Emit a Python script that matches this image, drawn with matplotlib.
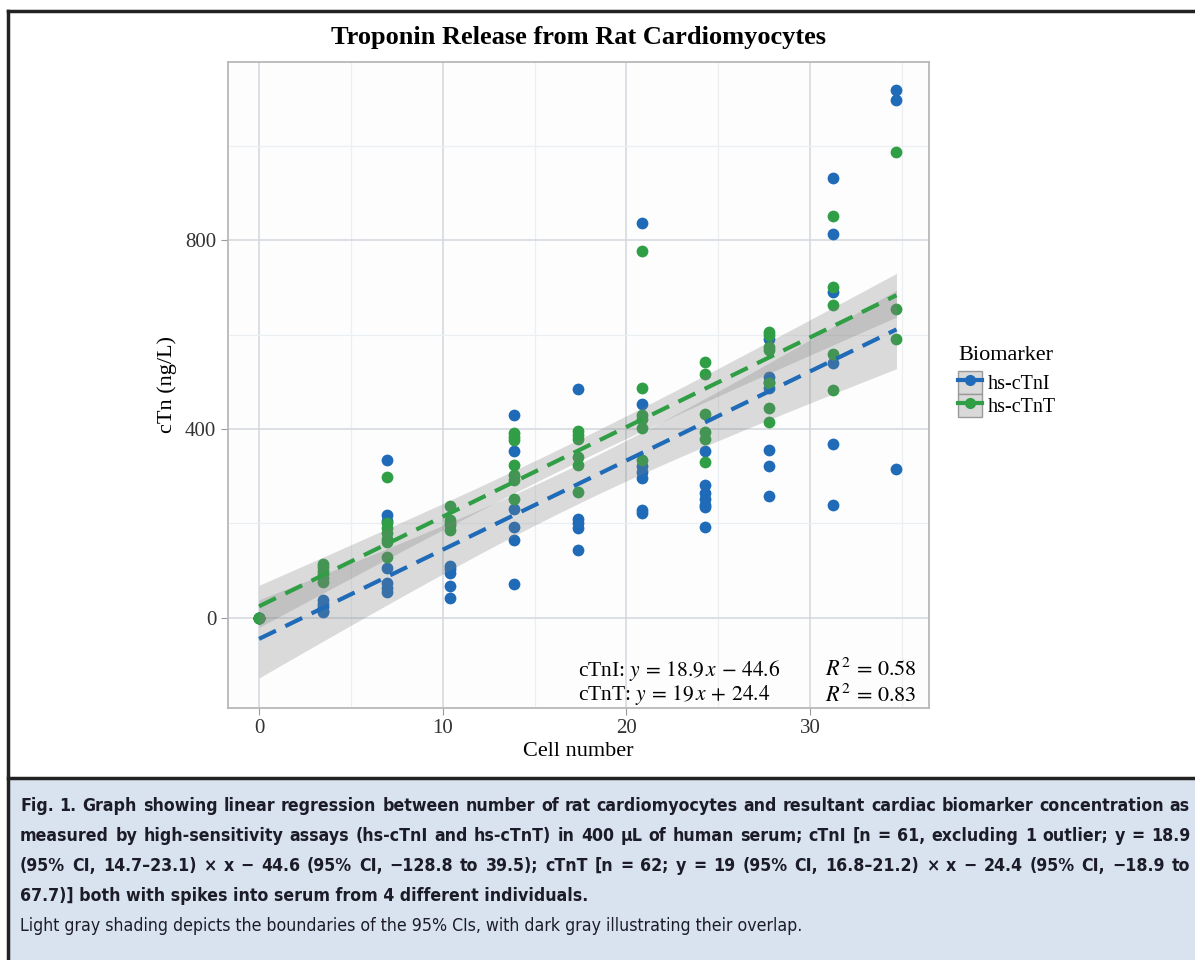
import numpy as np
import matplotlib.pyplot as plt
from matplotlib.lines import Line2D
from matplotlib.patches import Patch, Rectangle
from matplotlib.legend_handler import HandlerTuple

plt.rcParams['font.family'] = ['Liberation Serif', 'DejaVu Serif']
plt.rcParams['mathtext.fontset'] = 'stix'

# cell number levels (x) and measured troponin per level
x_levels = [0, 3.47, 6.94, 10.41, 13.88, 17.35, 20.82, 24.29, 27.76, 31.23, 34.7]
ctni_cols = [
    [0, 0, 0, 0],
    [38, 30, 23, 15, 12],
    [334, 218, 205, 106, 73, 63, 55],
    [110, 104, 95, 67, 43],
    [430, 354, 230, 193, 166, 71],
    [486, 209, 201, 191, 144],
    [837, 453, 322, 310, 296, 228, 223],
    [354, 281, 265, 251, 240, 234, 192],
    [592, 511, 500, 488, 355, 322, 258],
    [933, 813, 691, 541, 368, 239],
    [1118, 1097, 315],
]
ctnt_cols = [
    [0, 0, 0, 0],
    [115, 108, 100, 92, 84, 75],
    [298, 200, 190, 180, 168, 160, 128],
    [237, 207, 200, 196, 186],
    [392, 384, 377, 324, 302, 292, 251],
    [396, 387, 380, 341, 324, 267],
    [778, 488, 430, 422, 402, 334],
    [543, 516, 432, 394, 380, 331],
    [606, 599, 573, 567, 497, 444, 415],
    [852, 702, 663, 559, 483],
    [988, 654, 592],
]
# fitted coefficients as printed on the chart
ctni_slope, ctni_icpt, ctni_r2 = 18.9, -44.6, 0.58
ctnt_slope, ctnt_icpt, ctnt_r2 = 19, 24.4, 0.83

blue = '#1f6bb8'
green = '#2f9e44'

ctni_x = np.repeat(x_levels, [len(c) for c in ctni_cols])
ctni_y = np.concatenate(ctni_cols).astype(float)
ctnt_x = np.repeat(x_levels, [len(c) for c in ctnt_cols])
ctnt_y = np.concatenate(ctnt_cols).astype(float)


def ci_band(x, y, slope, icpt, drop_outlier=False):
    res = y - (slope * x + icpt)
    keep = np.ones(len(x), bool)
    if drop_outlier:
        keep[np.argmax(np.abs(res))] = False
    x, res = x[keep], res[keep]
    n = len(x)
    s = np.sqrt(np.sum(res ** 2) / (n - 2))
    xx = np.linspace(x.min(), x.max(), 100)
    se = s * np.sqrt(1 / n + (xx - x.mean()) ** 2 / np.sum((x - x.mean()) ** 2))
    fit = slope * xx + icpt
    return xx, fit, fit - 2.0 * se, fit + 2.0 * se


W, H = 1195, 960
fig = plt.figure(figsize=(W / 100, H / 100), dpi=100)

# frame and caption box
fig.add_artist(Rectangle((8 / W, 0), 1, (H - 778) / H, transform=fig.transFigure,
                         facecolor='#d9e3f0', edgecolor='none', zorder=0))
fig.add_artist(Line2D([8 / W, 1], [1 - 778 / H] * 2, transform=fig.transFigure, color='#222222', lw=2.5))
fig.add_artist(Line2D([8 / W, 1], [1 - 11 / H] * 2, transform=fig.transFigure, color='#222222', lw=2.5))
fig.add_artist(Line2D([8 / W] * 2, [0, 1 - 11 / H], transform=fig.transFigure, color='#222222', lw=2.5))

ax = fig.add_axes([228 / W, 1 - 707.5 / H, 701 / W, 645.5 / H])
ax.set_facecolor('#fdfdfe')

ax.scatter(ctni_x, ctni_y, s=72, color=blue, linewidths=0, zorder=2)
ax.scatter(ctnt_x, ctnt_y, s=72, color=green, linewidths=0, zorder=2)

for x, y, sl, ic, col, drop in [(ctni_x, ctni_y, ctni_slope, ctni_icpt, blue, True),
                                (ctnt_x, ctnt_y, ctnt_slope, ctnt_icpt, green, False)]:
    xx, fit, lo, hi = ci_band(x, y, sl, ic, drop)
    ax.fill_between(xx, lo, hi, color='#7f7f7f', alpha=0.27, lw=0, zorder=3)
    ax.plot(xx, fit, color=col, lw=3, dashes=(4.5, 2.5), zorder=4)

ax.set_xlim(-1.69, 36.47)
ax.set_ylim(-190, 1178)
ax.set_xticks([0, 10, 20, 30])
ax.set_yticks([0, 400, 800])
ax.set_xticks([5, 15, 25, 35], minor=True)
ax.set_yticks([200, 600, 1000], minor=True)
ax.grid(which='major', color='#d3d8dd', lw=1.1)
ax.grid(which='minor', color='#eceff2', lw=0.9)
ax.set_axisbelow(True)
ax.tick_params(which='major', colors='#9a9a9a', labelcolor='#333333', length=5, labelsize=15)
ax.tick_params(which='minor', length=0)
for sp in ax.spines.values():
    sp.set_color('#b8b8b8')
    sp.set_linewidth(1.3)

ax.set_title('Troponin Release from Rat Cardiomyocytes', fontsize=19, fontweight='bold', pad=13)
ax.set_xlabel('Cell number', fontsize=16, labelpad=3)
ax.set_ylabel('cTn (ng/L)', fontsize=16, labelpad=6)


def eq_label(name, slope, icpt):
    op = '-' if icpt < 0 else '+'
    return f"{name}: $y\\,=\\,{slope:g}\\,x\\,{op}\\,{abs(icpt):g}$"


ax.text(0.499, 0.058, eq_label('cTnI', ctni_slope, ctni_icpt),
        transform=ax.transAxes, fontsize=15.5, va='center', ha='left')
ax.text(0.499, 0.019, eq_label('cTnT', ctnt_slope, ctnt_icpt),
        transform=ax.transAxes, fontsize=15.5, va='center', ha='left')
ax.text(0.852, 0.058, f"$R^2\\,=\\,{ctni_r2:.2f}$", transform=ax.transAxes, fontsize=16, va='center')
ax.text(0.852, 0.019, f"$R^2\\,=\\,{ctnt_r2:.2f}$", transform=ax.transAxes, fontsize=16, va='center')

# legend: title drawn separately so the keys sit flush under it
fig.text(958 / W, 1 - 355 / H, 'Biomarker', fontsize=16, va='center', ha='left')
handles = [(Patch(facecolor='#d9d9d9', edgecolor='#9a9a9a'),
            Line2D([], [], color=c, lw=3, marker='o', ms=7)) for c in (blue, green)]
fig.legend(handles, ['hs-cTnI', 'hs-cTnT'], handler_map={tuple: HandlerTuple(ndivide=1, pad=0)},
           loc='upper left', bbox_to_anchor=(958 / W, 1 - 371 / H),
           frameon=False, fontsize=14.5, handlelength=1.2, handleheight=1.35,
           handletextpad=0.3, labelspacing=0.0, borderaxespad=0, borderpad=0)

cap_font = ['Liberation Sans Narrow', 'DejaVu Sans']
caption = [
    ("Fig. 1.  Graph showing linear regression between number of rat cardiomyocytes and resultant cardiac biomarker concentration as", 'bold', True),
    ("measured by high-sensitivity assays (hs-cTnI and hs-cTnT) in 400 μL of human serum; cTnI [n = 61, excluding 1 outlier; y = 18.9", 'bold', True),
    ("(95% CI, 14.7–23.1) × x − 44.6 (95% CI, −128.8 to 39.5); cTnT [n = 62; y = 19 (95% CI, 16.8–21.2) × x − 24.4 (95% CI, −18.9 to", 'bold', True),
    ("67.7)] both with spikes into serum from 4 different individuals.", 'bold', False),
    ("Light gray shading depicts the boundaries of the 95% CIs, with dark gray illustrating their overlap.", 'normal', False),
]
cap_left, cap_width = 20, 1170
kw = dict(family=cap_font, stretch='condensed', va='center', ha='left', color='#1c1c28')
texts = []
for i, (line, wt, _) in enumerate(caption):
    texts.append(fig.text(cap_left / W, 1 - (806 + 30 * i) / H, line, fontsize=15, fontweight=wt, **kw))

# shrink the caption so the widest full line fits inside the box
renderer = fig.canvas.get_renderer()
widest = max(t.get_window_extent(renderer).width for t in texts[:3])
size = 15 * cap_width / widest
for t in texts:
    t.set_fontsize(size)

# justify the full lines word by word, like the printed caption
for t, (line, wt, justify) in zip(texts, caption):
    if not justify:
        continue
    yy = t.get_position()[1]
    t.remove()
    words = [fig.text(0, yy, w, fontsize=size, fontweight=wt, **kw) for w in line.split()]
    widths = [w.get_window_extent(renderer).width for w in words]
    gap = (cap_width - sum(widths)) / (len(words) - 1)
    xpos = cap_left
    for w, wd in zip(words, widths):
        w.set_x(xpos / W)
        xpos += wd + gap

fig.savefig('out.png', dpi=100)
